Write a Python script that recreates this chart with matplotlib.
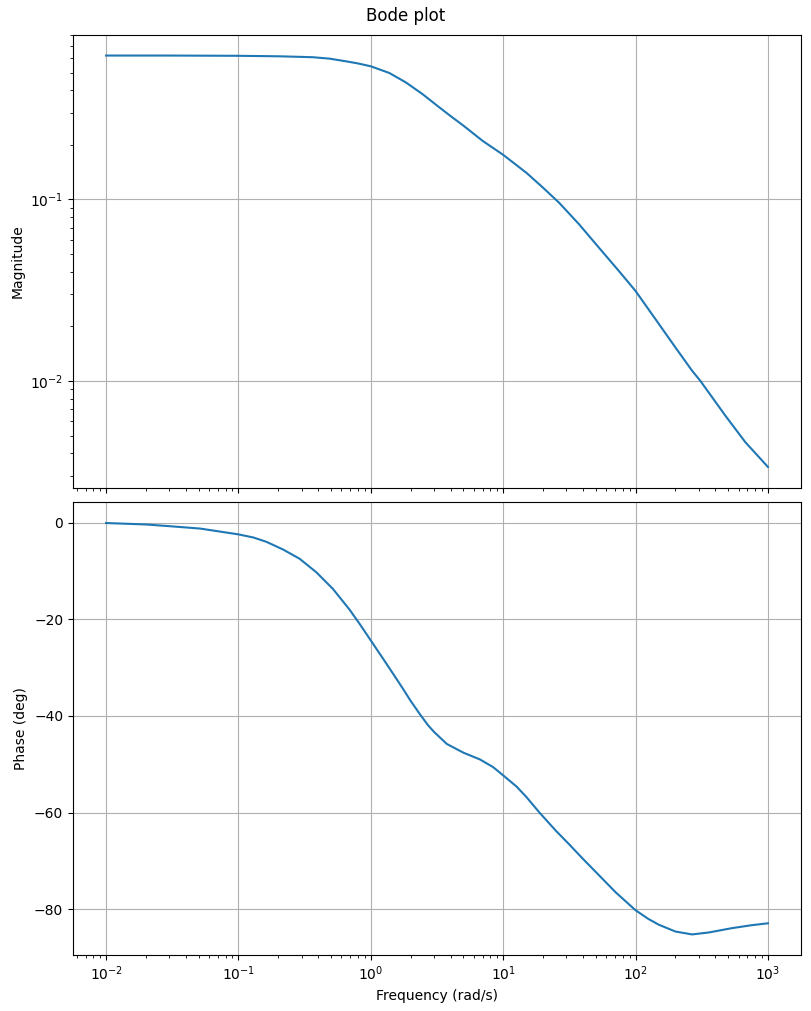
import matplotlib
matplotlib.use("Agg")
import matplotlib.pyplot as plt

# values
freq_mag = [0.01, 0.03, 0.1, 0.206, 0.365, 0.489, 0.652, 0.8, 1, 1.38, 1.84, 2.46,
            3.3, 4, 5, 7, 10, 15, 20, 26.4, 37.4, 52.9, 74.9, 100, 150, 200,
            267, 309, 476, 675, 1000]
magnitude = [0.62, 0.62, 0.618, 0.614, 0.607, 0.596, 0.576, 0.561, 0.541, 0.497,
             0.441, 0.38, 0.321, 0.288, 0.255, 0.21, 0.176, 0.14, 0.116, 0.096,
             0.073, 0.0542, 0.0403, 0.0313, 0.0206, 0.0153, 0.0114, 0.01,
             0.00645, 0.0046, 0.00336]

freq_ph = [0.01, 0.02, 0.03, 0.0515, 0.1, 0.13, 0.163, 0.218, 0.29, 0.388, 0.518,
           0.69, 0.82, 1, 1.24, 1.5, 1.77, 2.0, 2.37, 2.7, 3.0, 3.75, 5.0, 6.67,
           8.4, 10, 12.6, 15, 18.8, 25.1, 31.6, 39.8, 53.1, 70.8, 100, 125, 150,
           200, 267, 357, 535, 750, 1000]
phase = [-0.1, -0.4, -0.75, -1.25, -2.45, -3.1, -4.0, -5.6, -7.5, -10.3, -13.75,
         -18.0, -20.9, -24.4, -28.2, -31.6, -34.6, -36.9, -39.8, -41.9, -43.3,
         -45.8, -47.6, -49.0, -50.6, -52.3, -54.6, -56.8, -60.0, -63.8, -66.6,
         -69.5, -73.0, -76.5, -80.2, -82.0, -83.2, -84.6, -85.2, -84.8, -83.9,
         -83.3, -82.9]

fig, (ax1, ax2) = plt.subplots(2, 1, sharex=True, figsize=(8.11, 10.11), dpi=100)
fig.subplots_adjust(left=0.09, right=0.9877, top=0.9654, bottom=0.0554, hspace=0.033)

ax1.loglog(freq_mag, magnitude)
ax1.set_ylabel('Magnitude')
ax1.grid(True)

ax2.semilogx(freq_ph, phase)
ax2.set_ylabel('Phase (deg)')
ax2.set_xlabel('Frequency (rad/s)')
ax2.grid(True)

fig.suptitle('Bode plot', y=0.993)

fig.savefig('out.png', dpi=100)
